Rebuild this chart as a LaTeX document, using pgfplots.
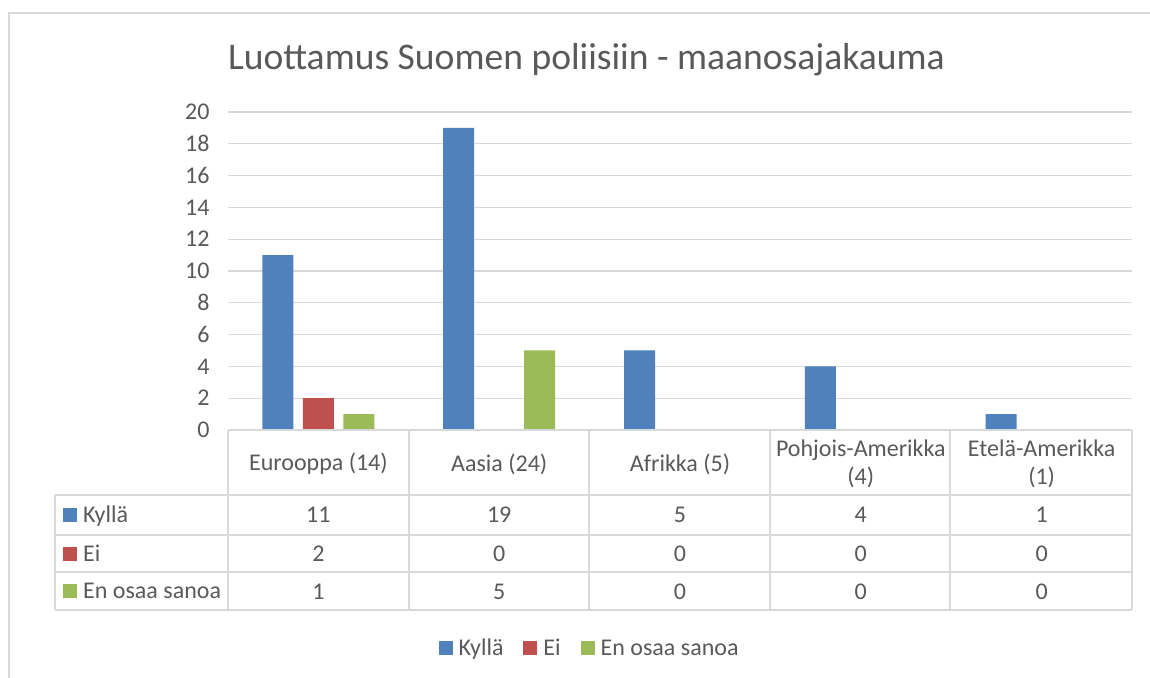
\documentclass[border=0pt]{standalone}
\usepackage{fontspec}
\setmainfont{Carlito}
\usepackage{pgfplots}
\pgfplotsset{compat=1.18}
\usepackage{pgfplotstable}
\definecolor{cblue}{HTML}{4F81BD}
\definecolor{cred}{HTML}{C0504D}
\definecolor{cgreen}{HTML}{9BBB59}
\definecolor{ctext}{HTML}{595959}
\definecolor{cgrid}{HTML}{D9D9D9}
\pgfplotsset{/pgf/number format/assume math mode=true,
  sq legend/.style={legend image code/.code={\fill[##1] (0bp,-7bp) rectangle (14bp,7bp);}}}

\pgfplotstableread{
x Kylla Ei Eos
0 11 2 1
1 19 0 5
2 5 0 0
3 4 0 0
4 1 0 0
}\datatable

\newcommand{\bodyfont}{\fontsize{24bp}{28.5bp}\selectfont}

\begin{document}
\begin{tikzpicture}[x=1bp,y=1bp]
\useasboundingbox (0,0) rectangle (1150,678);
% outer frame
\draw[cgrid, line width=1.5bp] (9,0) -- (9,665) -- (1150,665);
% title
\node[anchor=base, text=ctext, font=\fontsize{37.6bp}{44bp}\selectfont, inner sep=0pt] at (586.5,608) {Luottamus Suomen poliisiin - maanosajakauma};

\begin{axis}[
  at={(228bp,248bp)}, anchor=south west,
  width=904bp, height=318bp, scale only axis,
  xmin=-0.5, xmax=4.5, ymin=0, ymax=20,
  ytick={0,2,...,20},
  xtick={0,1,2,3,4},
  xticklabels={Eurooppa (14), Aasia (24), Afrikka (5), {Pohjois-Amerikka\\(4)}, {Etelä-Amerikka\\(1)}},
  ymajorgrids, grid style={cgrid, line width=1.3bp},
  axis line style={draw=none}, tick style={draw=none},
  xticklabel style={anchor=center, align=center, yshift=-34bp, text=ctext, font=\bodyfont},
  yticklabel style={anchor=east, xshift=-15bp, text=ctext, font=\bodyfont},
  clip=false,
  legend style={at={(0.400,-0.686)}, anchor=center, draw=none, fill=none,
    legend columns=3, font=\bodyfont, text=ctext,
    /tikz/every odd column/.append style={column sep=4bp},
    /tikz/every even column/.append style={column sep=18bp}},
  legend cell align=left,
]
\addplot[ybar, bar width=31bp, bar shift=-40.5bp, fill=cblue, draw=none, sq legend] table[x=x,y=Kylla]{\datatable};
\addlegendentry{Kyllä}
\addplot[ybar, bar width=31bp, bar shift=0bp, fill=cred, draw=none, sq legend] table[x=x,y=Ei]{\datatable};
\addlegendentry{Ei}
\addplot[ybar, bar width=31bp, bar shift=40.5bp, fill=cgreen, draw=none, sq legend] table[x=x,y=Eos]{\datatable};
\addlegendentry{En osaa sanoa}
% data table values
\addplot[forget plot, draw=none, mark=none, nodes near coords, point meta=explicit,
  nodes near coords style={anchor=base, text=ctext, font=\bodyfont}]
  table[x=x, y expr=-5.849, meta=Kylla]{\datatable};
\addplot[forget plot, draw=none, mark=none, nodes near coords, point meta=explicit,
  nodes near coords style={anchor=base, text=ctext, font=\bodyfont}]
  table[x=x, y expr=-8.302, meta=Ei]{\datatable};
\addplot[forget plot, draw=none, mark=none, nodes near coords, point meta=explicit,
  nodes near coords style={anchor=base, text=ctext, font=\bodyfont}]
  table[x=x, y expr=-10.63, meta=Eos]{\datatable};
\end{axis}

% table grid
\begin{scope}[cgrid, line width=1.5bp]
\draw (228,248) -- (1132,248);
\foreach \yy in {183,143,106,68} \draw (55,\yy) -- (1132,\yy);
\foreach \xx in {228,409,589,770,950,1132} \draw (\xx,248) -- (\xx,68);
\draw (55,183) -- (55,68);
\end{scope}
% row labels
\fill[cblue] (63,156) rectangle (77,170);
\fill[cred] (63,117) rectangle (77,131);
\fill[cgreen] (63,80) rectangle (77,94);
\node[anchor=base west, inner sep=0pt, text=ctext, font=\bodyfont] at (83,155) {Kyllä};
\node[anchor=base west, inner sep=0pt, text=ctext, font=\bodyfont] at (83,116) {Ei};
\node[anchor=base west, inner sep=0pt, text=ctext, font=\bodyfont] at (83,79) {En osaa sanoa};
\end{tikzpicture}
\end{document}
